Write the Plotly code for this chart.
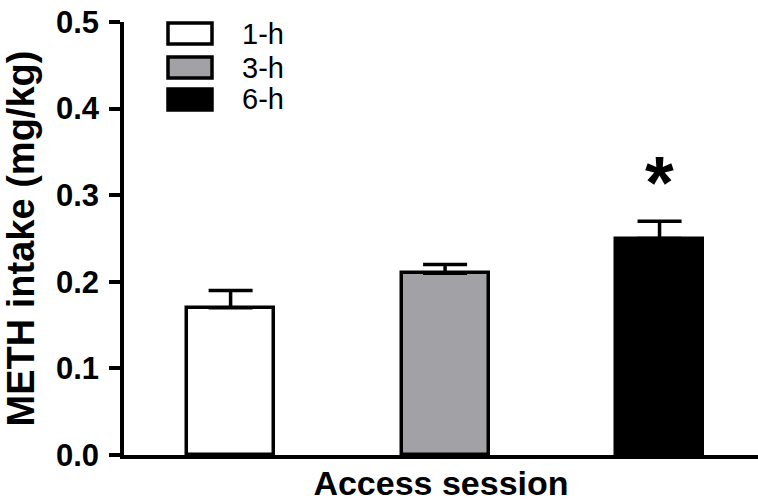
import plotly.graph_objects as go

# Mean METH intake per access-session length, with SEM
sessions = ["1-h", "3-h", "6-h"]
intake = [0.17, 0.21, 0.25]
sem = [0.02, 0.01, 0.02]
bar_colors = ["#ffffff", "#a2a1a6", "#000000"]
significant = [False, False, True]

y_ticks = [0.0, 0.1, 0.2, 0.3, 0.4, 0.5]
y_tick_text = ["0.0", "0.1", "0.2", "0.3", "0.4", "0.5"]

W, H = 758, 504
M_L, M_R, M_T, M_B = 124, 0, 22, 49
PW, PH = W - M_L - M_R, H - M_T - M_B

FONT = "Liberation Sans, Arial, sans-serif"

fig = go.Figure()
fig.add_trace(go.Bar(
    x=list(range(len(sessions))),
    y=intake,
    width=0.406,
    marker=dict(color=bar_colors, line=dict(color="black", width=3.5)),
    error_y=dict(type="data", array=sem, arrayminus=[0] * len(sem),
                 symmetric=False, color="black", thickness=3.5, width=22),
    showlegend=False,
))

# Significance marker above the 6-h bar
for i, sig in enumerate(significant):
    if sig:
        fig.add_annotation(x=i, y=intake[i] + sem[i], text="<b>*</b>",
                           showarrow=False, yanchor="bottom", yshift=-5,
                           font=dict(family=FONT, size=74, color="black"))

# Legend drawn as outlined boxes with labels
def px_x(px):
    return (px - M_L) / PW

def px_y(py):
    return (M_T + PH - py) / PH

box_top = [23, 57, 89]
box_h = 21
for name, col, top in zip(sessions, bar_colors, box_top):
    fig.add_shape(type="rect", xref="paper", yref="paper",
                  x0=px_x(168), x1=px_x(212), y0=px_y(top + box_h), y1=px_y(top),
                  fillcolor=col, line=dict(color="black", width=3.5))
    fig.add_annotation(xref="paper", yref="paper", x=px_x(240),
                       y=px_y(top + box_h / 2), text=name, showarrow=False,
                       xanchor="left", yanchor="middle",
                       font=dict(family=FONT, size=29, color="black"))

fig.update_layout(
    width=W, height=H,
    margin=dict(l=M_L, r=M_R, t=M_T, b=M_B, pad=0),
    plot_bgcolor="white", paper_bgcolor="white",
    font=dict(family=FONT, color="black"),
    bargap=0,
)
fig.update_xaxes(
    range=[-0.497, 2.459],
    showline=True, linecolor="black", linewidth=3.5,
    showticklabels=False, ticks="", showgrid=False, zeroline=False,
    title=dict(text="<b>Access session</b>", standoff=14,
               font=dict(family=FONT, size=34, color="black")),
)
fig.update_yaxes(
    range=[0, 0.5],
    tickvals=y_ticks, ticktext=y_tick_text,
    ticks="outside", ticklen=11, tickwidth=3.5, tickcolor="black",
    tickfont=dict(family=FONT, size=31, color="black", weight="bold"),
    ticklabelstandoff=4,
    showline=True, linecolor="black", linewidth=3.5,
    showgrid=False, zeroline=False,
    title=dict(text="<b>METH intake (mg/kg)</b>", standoff=11,
               font=dict(family=FONT, size=38, color="black")),
)

fig.write_html("out.html")
